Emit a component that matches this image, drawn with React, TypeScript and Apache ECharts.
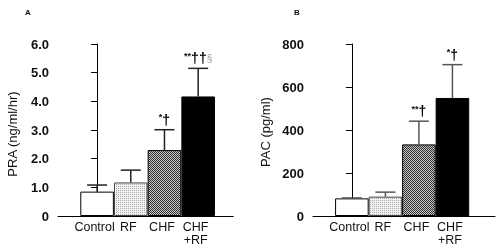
import React, { useEffect, useRef } from "react";
import * as echarts from "echarts";

const categories = ["Control", "RF", "CHF", "CHF\n+RF"];
const praMean = [0.85, 1.17, 2.3, 4.17];
const praErr = [0.23, 0.43, 0.71, 0.98];
const praNotes = ["", "", "*†", "**††§"];
const pacMean = [82, 90, 333, 549];
const pacErr = [2, 21, 108, 155];
const pacNotes = ["", "", "**†", "*†"];
const praTicks = { min: 0, max: 6, interval: 1 };
const pacTicks = { min: 0, max: 800, interval: 200 };

function makePattern(size: number, paint: (x: number, y: number) => string): string {
  const c = document.createElement("canvas");
  c.width = size;
  c.height = size;
  const ctx = c.getContext("2d")!;
  for (let y = 0; y < size; y++) {
    for (let x = 0; x < size; x++) {
      ctx.fillStyle = paint(x, y);
      ctx.fillRect(x, y, 1, 1);
    }
  }
  return c.toDataURL();
}

function toRich(s: string): string {
  return s
    .replace(/(\*+)/g, "{s|$1}")
    .replace(/(†+)/g, "{d|$1}")
    .replace(/(§+)/g, "{g|$1}");
}

export default function App() {
  const ref = useRef<HTMLDivElement>(null);
  useEffect(() => {
    if (!ref.current) return;
    const chart = echarts.init(ref.current, null, { renderer: "svg" });
    const dotted = makePattern(2, (x, y) => (x === 0 && y === 0 ? "#a8a8a8" : "#f2f2f2"));
    const checker = makePattern(2, (x, y) => ((x + y) % 2 === 0 ? "#333333" : "#c4c4c4"));
    const fills = ["#ffffff", { image: dotted, repeat: "repeat" }, { image: checker, repeat: "repeat" }, "#000000"];

    const tickFont = { fontFamily: "Liberation Sans, Arial, sans-serif", fontWeight: "bold" as const, fontSize: 13, color: "#111" };
    const catFont = { fontFamily: "Liberation Sans Narrow, Arial Narrow, Liberation Sans, sans-serif", fontSize: 12.5, color: "#111", lineHeight: 13 };

    const mkX = (gridIndex: number, min: number, max: number) => ({
      type: "value",
      gridIndex,
      min,
      max,
      axisLine: { show: true, lineStyle: { color: "#000", width: 1 } },
      axisTick: { show: false },
      splitLine: { show: false },
      axisLabel: {
        ...catFont,
        margin: 4,
        padding: [0, 5, 0, 0],
        interval: 0,
        customValues: [0, 1, 2, 3],
        showMinLabel: true,
        showMaxLabel: true,
        hideOverlap: false,
        formatter: (v: number) => categories[Math.round(v)] ?? "",
      },
    });
    const mkY = (gridIndex: number, t: { min: number; max: number; interval: number }, fmt: (v: number) => string) => ({
      type: "value",
      gridIndex,
      min: t.min,
      max: t.max,
      interval: t.interval,
      axisLine: { show: true, lineStyle: { color: "#000", width: 1 } },
      axisTick: { show: true, length: 6, lineStyle: { color: "#000", width: 1 } },
      splitLine: { show: false },
      axisLabel: { ...tickFont, margin: 9, showMinLabel: true, showMaxLabel: true, hideOverlap: false, formatter: fmt },
    });

    const barSeries = (idx: number, means: number[]) => ({
      type: "bar",
      xAxisIndex: idx,
      yAxisIndex: idx,
      barWidth: 33.6,
      data: means.map((m, i) => ({
        value: [i, m],
        itemStyle: { color: fills[i], borderColor: i === 1 ? "#444" : "#000", borderWidth: 1 },
      })),
    });

    const errSeries = (idx: number, means: number[], errs: number[], notes: string[], lineColor: string) => ({
      type: "custom",
      xAxisIndex: idx,
      yAxisIndex: idx,
      z: 5,
      data: means.map((m, i) => [i, m, errs[i]]),
      renderItem: (params: any, api: any) => {
        const i = api.value(0);
        const m = api.value(1);
        const e = api.value(2);
        const p0 = api.coord([i, m]);
        const p1 = api.coord([i, m + e]);
        const half = 10;
        const note = notes[params.dataIndex];
        const children: any[] = [
          { type: "line", shape: { x1: p0[0], y1: p0[1], x2: p1[0], y2: p1[1] }, style: { stroke: lineColor, lineWidth: 1.5 } },
          { type: "line", shape: { x1: p1[0] - half, y1: p1[1], x2: p1[0] + half, y2: p1[1] }, style: { stroke: lineColor, lineWidth: 1.5 } },
        ];
        if (note) {
          children.push({
            type: "text",
            x: p1[0],
            y: p1[1] - 3,
            style: {
              text: toRich(note),
              textAlign: "center",
              textVerticalAlign: "bottom",
              rich: {
                s: { fontSize: 9, fontFamily: "Liberation Sans, Arial", fontWeight: "bold", fill: "#111", verticalAlign: "top", padding: [0, 0, 4, 0] },
                d: { fontSize: 14, fontFamily: "Liberation Sans, Arial", fontWeight: "bold", fill: "#000" },
                g: { fontSize: 10, fontFamily: "Liberation Sans, Arial", fill: "#999" },
              },
            },
          });
        }
        return { type: "group", children };
      },
    });

    chart.setOption({
      animation: false,
      grid: [
        { left: 58, top: 44, width: 175.2, height: 172 },
        { left: 313, top: 44, width: 182, height: 172 },
      ],
      xAxis: [mkX(0, -1.16, 4.04), mkX(1, -1.16, 4.27)],
      yAxis: [
        mkY(0, praTicks, (v: number) => (v === 0 ? "0" : v.toFixed(1))),
        mkY(1, pacTicks, (v: number) => String(v)),
      ],
      series: [
        barSeries(0, praMean),
        errSeries(0, praMean, praErr, praNotes, "#222"),
        barSeries(1, pacMean),
        errSeries(1, pacMean, pacErr, pacNotes, "#555"),
      ],
      graphic: [
        { type: "text", x: 28, y: 12, style: { text: "A", fontSize: 8, fontWeight: "bold", fontFamily: "Liberation Sans, Arial", fill: "#111", textAlign: "center", textVerticalAlign: "middle" } },
        { type: "text", x: 297, y: 12.5, style: { text: "B", fontSize: 8, fontWeight: "bold", fontFamily: "Liberation Sans, Arial", fill: "#111", textAlign: "center", textVerticalAlign: "middle" } },
        { type: "text", x: 12, y: 134, rotation: Math.PI / 2, style: { text: "PRA (ng/ml/hr)", fontSize: 13, fontFamily: "Liberation Sans, Arial", fill: "#111", textAlign: "center", textVerticalAlign: "middle" } },
        { type: "text", x: 265, y: 132, rotation: Math.PI / 2, style: { text: "PAC (pg/ml)", fontSize: 13, fontFamily: "Liberation Sans, Arial", fill: "#111", textAlign: "center", textVerticalAlign: "middle" } },
      ],
    });
    return () => chart.dispose();
  }, []);
  return <div ref={ref} style={{ position: "fixed", left: 0, top: 0, width: 500, height: 248 }} />;
}
